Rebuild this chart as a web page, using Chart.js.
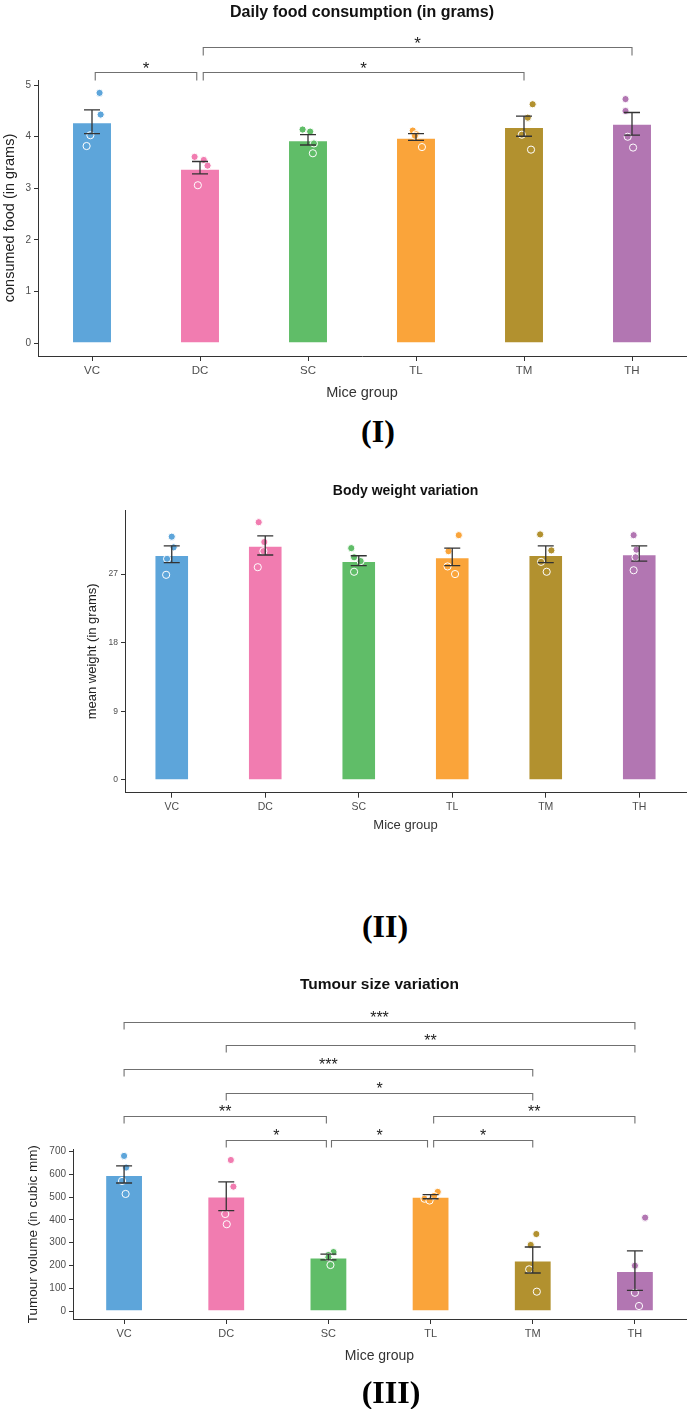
<!DOCTYPE html>
<html>
<head>
<meta charset="utf-8">
<script src="https://cdn.jsdelivr.net/npm/chart.js@4.4.1/dist/chart.umd.min.js"></script>
<style>
  body { margin: 0; background: #fff; width: 688px; height: 1409px; position: relative; overflow: hidden; }
  canvas { position: absolute; left: 0; }
  .cap { position: absolute; font-family: "Liberation Serif", "Times New Roman", serif; font-weight: bold; font-size: 32px; color: #000; transform: translate(-50%, -50%); line-height: 1; }
</style>
</head>
<body>
<canvas id="food" width="688" height="410" style="top:0px"></canvas>
<div class="cap" style="left:378px;top:431px">(I)</div>
<canvas id="weight" width="688" height="370" style="top:470px"></canvas>
<div class="cap" style="left:385px;top:926px">(II)</div>
<canvas id="tumour" width="688" height="420" style="top:960px"></canvas>
<div class="cap" style="left:391px;top:1392px">(III)</div>
<script>
const groups = ['VC', 'DC', 'SC', 'TL', 'TM', 'TH'];
const colors = ['#5DA5DA', '#F17CB0', '#60BD68', '#FAA43A', '#B2912F', '#B276B2'];

// (I) consommation journaliere
const foodMean = [4.28, 3.38, 3.93, 3.98, 4.19, 4.25];
const foodLow = [4.06, 3.28, 3.84, 3.93, 4.01, 4.03];
const foodHigh = [4.52, 3.52, 4.04, 4.06, 4.40, 4.47];
const foodPoints = [
    [4.85, 4.43, 4.03, 3.82],
    [3.61, 3.55, 3.44, 3.06],
    [4.14, 4.10, 3.87, 3.68],
    [4.12, 4.05, 4.02, 3.80],
    [4.63, 4.37, 4.04, 3.75],
    [4.73, 4.50, 4.00, 3.79]
];
const foodJitter = [
    [0.07, 0.08, -0.015, -0.05],
    [-0.05, 0.035, 0.07, -0.02],
    [-0.05, 0.02, 0.055, 0.045],
    [-0.03, 0, -0.01, 0.055],
    [0.08, 0.035, -0.02, 0.065],
    [-0.06, -0.06, -0.04, 0.01]
];
const foodTicks = [0, 1, 2, 3, 4, 5];
const foodBrackets = [
    { from: 0.03, to: 0.97, level: 5.26, label: '*' },
    { from: 1.03, to: 4, level: 5.26, label: '*' },
    { from: 1.03, to: 5, level: 5.74, label: '*' }
];

// (II) poids
const weightMean = [29.5, 30.7, 28.7, 29.2, 29.5, 29.6];
const weightLow = [28.5, 29.5, 28.1, 28.1, 28.5, 28.7];
const weightHigh = [30.7, 32.0, 29.4, 30.4, 30.7, 30.7];
const weightPoints = [
    [31.9, 30.5, 29.0, 26.9],
    [33.8, 31.2, 30.0, 27.9],
    [30.4, 29.2, 28.7, 27.3],
    [32.1, 30.0, 28.0, 27.0],
    [32.2, 30.1, 28.6, 27.3],
    [32.1, 30.2, 29.2, 27.5]
];
const weightJitter = [
    [0, 0.02, -0.05, -0.06],
    [-0.07, -0.01, -0.02, -0.08],
    [-0.08, -0.05, 0.02, -0.05],
    [0.07, -0.04, -0.05, 0.03],
    [-0.06, 0.06, -0.05, 0.01],
    [-0.06, -0.03, -0.04, -0.06]
];
const weightTicks = [0, 9, 18, 27];

// (III) volume tumoral
const tumourMean = [597, 503, 235, 502, 222, 176];
const tumourLow = [562, 441, 225, 493, 167, 91];
const tumourHigh = [637, 567, 250, 511, 281, 264];
const tumourPoints = [
    [681, 630, 571, 514],
    [663, 546, 426, 381],
    [259, 246, 236, 202],
    [523, 505, 493, 485],
    [338, 290, 183, 85],
    [410, 199, 80, 22]
];
const tumourJitter = [
    [0, 0.02, -0.02, 0.015],
    [0.045, 0.07, -0.01, 0.005],
    [0.05, 0, 0, 0.02],
    [0.07, 0.035, -0.06, -0.01],
    [0.035, -0.02, -0.035, 0.04],
    [0.1, 0, 0, 0.04]
];
const tumourTicks = [0, 100, 200, 300, 400, 500, 600, 700];
const tumourBrackets = [
    { from: 0, to: 5, level: 1271, label: '***' },
    { from: 1, to: 5, level: 1166, label: '**' },
    { from: 0, to: 4, level: 1063, label: '***' },
    { from: 1, to: 4, level: 959, label: '*' },
    { from: 0, to: 1.98, level: 857, label: '**' },
    { from: 3.03, to: 5, level: 857, label: '**' },
    { from: 1, to: 1.98, level: 751, label: '*' },
    { from: 2.03, to: 2.97, level: 751, label: '*' },
    { from: 3.03, to: 4, level: 751, label: '*' }
];

const FONT = '"Liberation Sans", Arial, sans-serif';
Chart.defaults.font.family = FONT;

// barres d'erreur + crochets de significativite
function extras(o) {
    return {
        id: 'extras',
        afterDatasetsDraw(chart) {
            const ctx = chart.ctx;
            const xs = chart.scales.xp;
            const ys = chart.scales.y;
            ctx.save();
            ctx.strokeStyle = '#333';
            ctx.lineWidth = 1.3;
            o.low.forEach((lo, i) => {
                const px = xs.getPixelForValue(i);
                const y1 = ys.getPixelForValue(lo);
                const y2 = ys.getPixelForValue(o.high[i]);
                ctx.beginPath();
                ctx.moveTo(px, y1); ctx.lineTo(px, y2);
                ctx.moveTo(px - 8, y1); ctx.lineTo(px + 8, y1);
                ctx.moveTo(px - 8, y2); ctx.lineTo(px + 8, y2);
                ctx.stroke();
            });
            ctx.strokeStyle = '#707070';
            ctx.lineWidth = 1.1;
            ctx.fillStyle = '#222';
            ctx.textAlign = 'center';
            ctx.textBaseline = 'alphabetic';
            ctx.font = o.starSize + 'px ' + FONT;
            (o.brackets || []).forEach(b => {
                const a = xs.getPixelForValue(b.from);
                const c = xs.getPixelForValue(b.to);
                const yy = Math.round(ys.getPixelForValue(b.level)) + 0.5;
                ctx.beginPath();
                ctx.moveTo(a, yy + o.tip); ctx.lineTo(a, yy);
                ctx.lineTo(c, yy); ctx.lineTo(c, yy + o.tip);
                ctx.stroke();
                // centre de l'asterisque ~8.5px au-dessus du trait
                ctx.fillText(b.label, (a + c) / 2, yy - 8.5 + o.starSize * 0.59);
            });
            ctx.restore();
        }
    };
}

function panel(id, o) {
    const pts = [];
    const ptColors = [];
    o.points.forEach((vals, i) => vals.forEach((v, j) => {
        pts.push({ x: i + o.jitter[i][j], y: v });
        ptColors.push(colors[i]);
    }));

    new Chart(document.getElementById(id), {
        type: 'bar',
        data: {
            labels: groups,
            datasets: [
                {
                    type: 'scatter',
                    data: pts,
                    xAxisID: 'xp',
                    yAxisID: 'y',
                    order: 0,
                    pointRadius: 3.6,
                    pointBackgroundColor: ptColors,
                    pointBorderColor: '#fff',
                    pointBorderWidth: 1
                },
                {
                    data: o.mean,
                    xAxisID: 'x',
                    yAxisID: 'y',
                    order: 1,
                    grouped: false,
                    backgroundColor: colors,
                    borderColor: 'rgba(255,255,255,0.55)',
                    borderWidth: 1,
                    barPercentage: 0.37,
                    categoryPercentage: 1
                }
            ]
        },
        options: {
            responsive: false,
            animation: false,
            layout: { autoPadding: false, padding: { left: 0, right: 2, top: 0, bottom: 0 } },
            plugins: {
                legend: { display: false },
                tooltip: { enabled: false },
                title: {
                    display: true,
                    fullSize: false,
                    text: o.title,
                    color: '#111',
                    font: { size: o.titleSize, weight: 'bold' },
                    padding: { top: o.titleTop, bottom: o.titleBottom }
                }
            },
            scales: {
                x: {
                    type: 'category',
                    offset: true,
                    grid: { offset: false, drawOnChartArea: false, tickLength: 5, color: '#333' },
                    border: { color: '#333', width: 1 },
                    ticks: { color: '#4d4d4d', font: { size: o.xTickSize }, padding: 3 },
                    title: {
                        display: true,
                        text: 'Mice group',
                        color: '#333',
                        font: { size: o.xTitleSize },
                        padding: { top: 0, bottom: o.xTitlePad }
                    },
                    afterFit: s => { s.height = o.xHeight; }
                },
                xp: { type: 'linear', display: false, offset: false, min: -0.5, max: 5.5 },
                y: {
                    min: o.yMin,
                    max: o.yMax,
                    grid: { drawOnChartArea: false, tickLength: 4, color: '#333' },
                    border: { color: '#333', width: 1 },
                    ticks: { color: '#4d4d4d', font: { size: o.yTickSize }, padding: 3 },
                    afterBuildTicks: s => { s.ticks = o.ticks.map(v => ({ value: v })); },
                    title: {
                        display: true,
                        text: o.yTitle,
                        color: '#222',
                        font: { size: o.yTitleSize },
                        padding: { top: o.yTitlePad, bottom: 0 }
                    },
                    afterFit: s => { s.width = o.yWidth; }
                }
            }
        },
        plugins: [extras(o)]
    });
}

panel('food', {
    title: 'Daily food consumption (in grams)', titleSize: 16, titleTop: 3, titleBottom: 57.8,
    mean: foodMean, low: foodLow, high: foodHigh, points: foodPoints, jitter: foodJitter,
    ticks: foodTicks, yMin: -0.25, yMax: 5.1, brackets: foodBrackets, starSize: 17, tip: 8,
    yTitle: 'consumed food (in grams)', yTitleSize: 14.5, yTitlePad: 1.5, yWidth: 38, yTickSize: 10,
    xHeight: 54, xTickSize: 11.5, xTitleSize: 14.5, xTitlePad: 8
});

panel('weight', {
    title: 'Body weight variation', titleSize: 14, titleTop: 12.6, titleBottom: 10.6,
    mean: weightMean, low: weightLow, high: weightHigh, points: weightPoints, jitter: weightJitter,
    ticks: weightTicks, yMin: -1.67, yMax: 35.4, brackets: [], starSize: 14, tip: 7,
    yTitle: 'mean weight (in grams)', yTitleSize: 13, yTitlePad: 84.7, yWidth: 125, yTickSize: 8.5,
    xHeight: 47.3, xTickSize: 10.5, xTitleSize: 13, xTitlePad: 6.5
});

panel('tumour', {
    title: 'Tumour size variation', titleSize: 15.5, titleTop: 15.7, titleBottom: 155,
    mean: tumourMean, low: tumourLow, high: tumourHigh, points: tumourPoints, jitter: tumourJitter,
    ticks: tumourTicks, yMin: -35, yMax: 710, brackets: tumourBrackets, starSize: 16, tip: 7,
    yTitle: 'Tumour volume (in cubic mm)', yTitleSize: 13.5, yTitlePad: 25, yWidth: 73, yTickSize: 10,
    xHeight: 61, xTickSize: 11, xTitleSize: 14, xTitlePad: 15.6
});
</script>
</body>
</html>
